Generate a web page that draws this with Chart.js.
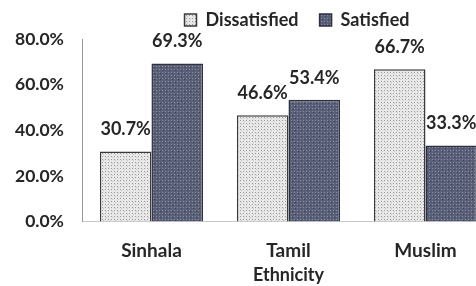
<!DOCTYPE html>
<html><head><meta charset="utf-8">
<script src="https://cdn.jsdelivr.net/npm/chart.js@4/dist/chart.umd.min.js"></script>
<style>html,body{margin:0;padding:0;background:#fff;overflow:hidden}#wrap{width:476px;height:286px;overflow:hidden}</style>
</head><body><div id="wrap"><canvas id="c" width="494" height="286"></canvas></div>
<script>
const categories = ["Sinhala", "Tamil", "Muslim"];
const dissatisfied = [30.7, 46.6, 66.7];
const satisfied = [69.3, 53.4, 33.3];
const seriesNames = ["Dissatisfied", "Satisfied"];
const yTicks = [0, 20, 40, 60, 80];
const axisTitle = "Ethnicity";

function makePattern(bg, dot, dot2) {
  const p = document.createElement('canvas');
  p.width = 6; p.height = 6;
  const g = p.getContext('2d');
  g.fillStyle = bg; g.fillRect(0, 0, 6, 6);
  g.fillStyle = dot;
  g.fillRect(0, 0, 1, 1); g.fillRect(3, 3, 1, 1); g.fillRect(3, 0, 1, 1); g.fillRect(0, 3, 1, 1);
  g.fillStyle = dot2;
  g.fillRect(1, 4, 1, 1); g.fillRect(4, 1, 1, 1);
  return g.createPattern(p, 'repeat');
}
const ctx0 = document.getElementById('c').getContext('2d');
const patLight = makePattern('#e8e8e8', '#9a9a9a', '#c4c4c4');
const patDark = makePattern('#5a5f78', '#8a8ea0', '#3a3e54');

const FONT = "Lato, 'Open Sans', sans-serif";
const TXT = '#262626';

const labelPlugin = {
  id: 'valLabels',
  afterDatasetsDraw(chart) {
    const c = chart.ctx;
    c.save();
    c.font = "bold 18px " + FONT;
    c.fillStyle = TXT;
    c.textAlign = 'center';
    c.textBaseline = 'middle';
    chart.data.datasets.forEach((ds, i) => {
      chart.getDatasetMeta(i).data.forEach((el, j) => {
        c.fillText(ds.data[j].toFixed(1) + '%', el.x, el.y - 22);
      });
    });
    c.restore();
  }
};
const legendShift = {
  id: 'legendShift',
  afterLayout(chart) {
    if (chart.legend) { chart.legend.left += 48; chart.legend.right += 48; }
  }
};

new Chart(ctx0, {
  type: 'bar',
  data: {
    labels: categories,
    datasets: [
      { label: seriesNames[0], data: dissatisfied, backgroundColor: patLight, borderColor: '#3a3a3a', borderWidth: 1.5 },
      { label: seriesNames[1], data: satisfied, backgroundColor: patDark, borderColor: '#2e3040', borderWidth: 1.5 }
    ]
  },
  options: {
    responsive: false,
    animation: false,
    layout: { padding: { left: 4, right: 0, top: -10, bottom: 0 } },
    categoryPercentage: 0.753,
    barPercentage: 1.0,
    plugins: {
      legend: {
        position: 'top',
        labels: { font: { family: FONT, size: 18, weight: 'bold' }, color: TXT, boxWidth: 12, boxHeight: 12, padding: 21 }
      },
      tooltip: { enabled: false }
    },
    scales: {
      x: {
        grid: { display: false },
        border: { display: true, color: '#c8c8c8' },
        ticks: { font: { family: FONT, size: 19, weight: 'bold' }, color: TXT, padding: 10 },
        title: { display: true, text: axisTitle, font: { family: FONT, size: 18, weight: 'bold' }, color: TXT, padding: { top: -8, bottom: 0 } }
      },
      y: {
        min: 0, max: 80,
        afterBuildTicks(s) { s.ticks = yTicks.map(v => ({ value: v })); },
        grid: { display: false },
        border: { display: true, color: '#9a9a9a' },
        ticks: { font: { family: FONT, size: 17.5, weight: 'bold' }, color: TXT, padding: 11, callback: v => v.toFixed(1) + '%' }
      }
    }
  },
  plugins: [labelPlugin, legendShift]
});
</script></body></html>
